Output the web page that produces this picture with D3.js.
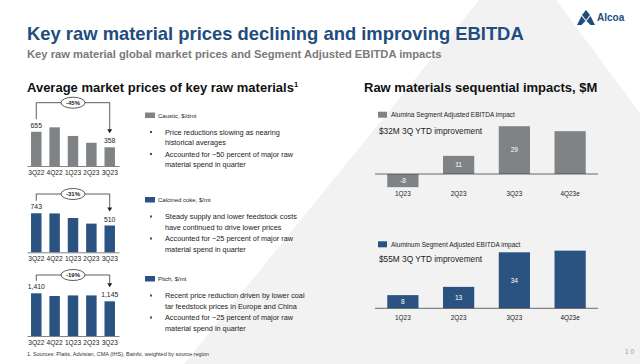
<!DOCTYPE html>
<html>
<head>
<meta charset="utf-8">
<script src="https://cdn.jsdelivr.net/npm/d3@7"></script>
<style>
  body { margin: 0; background: #fff; }
  svg { display: block; font-family: "Liberation Sans", Arial, sans-serif; }
</style>
</head>
<body>
<script>
// market price data (left)
const quarters = ['3Q22', '4Q22', '1Q23', '2Q23', '3Q23']
const causticPrices = [655, 740, 575, 445, 358]
const cokePrices = [743, 740, 653, 546, 510]
const pitchPrices = [1410, 1320, 1340, 1340, 1145]
const priceChanges = ['-45%', '-31%', '-19%']
const priceLegends = ['Caustic, $/dmt', 'Calcined coke, $/mt', 'Pitch, $/mt']
const priceNotes = [
  ['Price reductions slowing as nearing', 'historical averages', 'Accounted for ~50 percent of major raw', 'material spend in quarter'],
  ['Steady supply and lower feedstock costs', 'have continued to drive lower prices', 'Accounted for ~25 percent of major raw', 'material spend in quarter'],
  ['Recent price reduction driven by lower coal', 'tar feedstock prices in Europe and China', 'Accounted for ~25 percent of major raw', 'material spend in quarter']
]

// sequential impacts (right)
const impactQuarters = ['1Q23', '2Q23', '3Q23', '4Q23e']
const aluminaImpact = [-8, 11, 29, 26]
const aluminumImpact = [8, 13, 34, 35]
const impactLegends = ['Alumina Segment Adjusted EBITDA impact', 'Aluminum Segment Adjusted EBITDA impact']
const impactNotes = ['$32M 3Q YTD improvement', '$55M 3Q YTD improvement']

const gray = '#808385'
const blue = '#2a5382'
const titleBlue = '#214d7e'

var width = 640
var height = 364

var svg = d3.select('body').append('svg').attr('width', width).attr('height', height)

// background shape
svg.append('polygon')
  .attr('points', [[479, 0], [556, 0], [640, 113], [640, 364], [184, 364]].map(p => p.join(',')).join(' '))
  .attr('fill', '#f2f2f2')

// titles
svg.append('text').attr('x', 27).attr('y', 40)
  .attr('font-size', 18.4).attr('font-weight', 'bold').attr('fill', titleBlue)
  .text('Key raw material prices declining and improving EBITDA')
svg.append('text').attr('x', 27).attr('y', 58)
  .attr('font-size', 11.2).attr('font-weight', 'bold').attr('fill', '#7a7a7a')
  .text('Key raw material global market prices and Segment Adjusted EBITDA impacts')

var h1 = svg.append('text').attr('x', 27).attr('y', 92)
  .attr('font-size', 13).attr('font-weight', 'bold').attr('fill', '#111')
  .text('Average market prices of key raw materials')
h1.append('tspan').attr('font-size', 7.5).attr('dy', -5).text('1')
svg.append('text').attr('x', 364).attr('y', 92)
  .attr('font-size', 13).attr('font-weight', 'bold').attr('fill', '#111')
  .text('Raw materials sequential impacts, $M')

// logo
var logo = svg.append('g').attr('transform', 'translate(586,17)').attr('fill', titleBlue)
logo.append('path').attr('d', 'M0,-7 L4,-2 L0,3 L-4,-2 Z')
logo.append('path').attr('d', 'M-4.5,-1 L-0.5,4 L-4.5,8 L-9,8 Z')
logo.append('path').attr('d', 'M4.5,-1 L9,8 L4.5,8 L0.5,4 Z')
svg.append('text').attr('x', 597).attr('y', 21)
  .attr('font-size', 10).attr('font-weight', 'bold').attr('fill', titleBlue).text('Alcoa')

// ---- left mini charts ----
var x = d3.scaleBand().domain(quarters).range([27, 119]).paddingInner(0.43).paddingOuter(0.22)

var miniCharts = [
  {values: causticPrices, color: gray, base: 166, max: 750, h: 39.2, bracketY: 102.7, legendY: 115.5},
  {values: cokePrices, color: blue, base: 252.3, max: 750, h: 39.4, bracketY: 194, legendY: 200},
  {values: pitchPrices, color: blue, base: 336, max: 1410, h: 42.7, bracketY: 275, legendY: 279}
]

var fmt = d3.format(',')

miniCharts.forEach((c, i) => {
  var y = d3.scaleLinear().domain([0, c.max]).range([c.base, c.base - c.h])
  var g = svg.append('g')

  g.selectAll('rect').data(c.values).enter().append('rect')
    .attr('x', (d, j) => x(quarters[j]))
    .attr('y', d => y(d))
    .attr('width', x.bandwidth())
    .attr('height', d => y(0) - y(d))
    .attr('fill', c.color)

  g.append('g')
    .attr('transform', 'translate(0,' + c.base + ')')
    .call(d3.axisBottom(x).tickSize(0).tickPadding(4))
    .call(a => a.select('.domain').attr('stroke', '#666').attr('stroke-width', 0.8))
    .call(a => a.selectAll('text').attr('font-size', 6.6).attr('fill', '#222').attr('font-family', '"Liberation Sans", Arial, sans-serif'))

  // first and last labels
  var first = c.values[0], last = c.values[c.values.length - 1]
  var x0 = x(quarters[0]) + x.bandwidth() / 2
  var x1 = x(quarters[quarters.length - 1]) + x.bandwidth() / 2
  var l0 = y(first) - 4, l1 = y(last) - 4
  g.append('text').attr('x', x0).attr('y', l0).attr('text-anchor', 'middle')
    .attr('font-size', 6.8).attr('fill', '#222').text(fmt(first))
  g.append('text').attr('x', x1).attr('y', l1).attr('text-anchor', 'middle')
    .attr('font-size', 6.8).attr('fill', '#222').text(fmt(last))

  // bracket with arrow
  var tip = l1 - 10
  g.append('path')
    .attr('d', 'M' + x0 + ',' + (l0 - 8.5) + 'V' + c.bracketY + 'H' + x1 + 'V' + (tip - 3.5))
    .attr('fill', 'none').attr('stroke', '#333').attr('stroke-width', 0.8)
  g.append('path')
    .attr('d', 'M' + (x1 - 2.5) + ',' + (tip - 4) + 'L' + (x1 + 2.5) + ',' + (tip - 4) + 'L' + x1 + ',' + tip + 'Z')
    .attr('fill', '#222')
  var mid = (x0 + x1) / 2
  g.append('ellipse').attr('cx', mid).attr('cy', c.bracketY).attr('rx', 12).attr('ry', 5.5)
    .attr('fill', '#fff').attr('stroke', '#333').attr('stroke-width', 0.8)
  g.append('text').attr('x', mid).attr('y', c.bracketY + 2.2).attr('text-anchor', 'middle')
    .attr('font-size', 6).attr('font-weight', 'bold').attr('fill', '#222').text(priceChanges[i])

  // legend and notes
  g.append('rect').attr('x', 145).attr('y', c.legendY - 3).attr('width', 10).attr('height', 5.5).attr('fill', c.color)
  g.append('text').attr('x', 158).attr('y', c.legendY + 2).attr('font-size', 6).attr('fill', '#222').text(priceLegends[i])

  var noteYs = [c.legendY + 19, c.legendY + 29.5, c.legendY + 41, c.legendY + 51.5]
  priceNotes[i].forEach((line, k) => {
    if (k % 2 === 0) {
      g.append('rect').attr('x', 150).attr('y', noteYs[k] - 3.5).attr('width', 2).attr('height', 2).attr('fill', blue)
    }
    g.append('text').attr('x', 165).attr('y', noteYs[k]).attr('font-size', 7.3).attr('fill', '#222').text(line)
  })
})

// ---- right charts ----
var xi = d3.scaleBand().domain(impactQuarters).range([375, 598]).paddingInner(0.44).paddingOuter(0.22)
var yi = d3.scaleLinear().domain([0, 34]).range([0, 56])

var impactCharts = [
  {values: aluminaImpact, color: gray, base: 174, legendY: 114.7, noteY: 131},
  {values: aluminumImpact, color: blue, base: 308.3, legendY: 244.3, noteY: 259.3}
]

impactCharts.forEach((c, i) => {
  var g = svg.append('g')
  g.selectAll('rect').data(c.values).enter().append('rect')
    .attr('x', (d, j) => xi(impactQuarters[j]))
    .attr('y', d => d >= 0 ? c.base - yi(d) : c.base)
    .attr('width', xi.bandwidth())
    .attr('height', d => Math.abs(yi(d)))
    .attr('fill', c.color)

  g.selectAll('.val').data(c.values.slice(0, 3)).enter().append('text')
    .attr('x', (d, j) => xi(impactQuarters[j]) + xi.bandwidth() / 2)
    .attr('y', d => c.base - yi(d) / 2 + 2.3)
    .attr('text-anchor', 'middle').attr('font-size', 6.6).attr('fill', '#fff')
    .text(d => d)

  g.append('line').attr('x1', 375).attr('x2', 598).attr('y1', c.base).attr('y2', c.base)
    .attr('stroke', '#444').attr('stroke-width', 0.8)

  var labY = i === 0 ? 196.3 : 319.5
  g.selectAll('.cat').data(impactQuarters).enter().append('text')
    .attr('x', d => xi(d) + xi.bandwidth() / 2).attr('y', labY)
    .attr('text-anchor', 'middle').attr('font-size', 6.4).attr('fill', '#222').text(d => d)

  g.append('rect').attr('x', 378).attr('y', c.legendY - 3).attr('width', 9).attr('height', 6).attr('fill', c.color)
  g.append('text').attr('x', 391).attr('y', c.legendY + 2.2).attr('font-size', 6.5).attr('fill', '#222').text(impactLegends[i])
  g.append('text').attr('x', 379).attr('y', c.noteY + 2.8).attr('font-size', 8.3).attr('fill', '#222').text(impactNotes[i])
})

// footnote + page number
svg.append('text').attr('x', 27).attr('y', 356).attr('font-size', 5.5).attr('fill', '#333')
  .text('1. Sources: Platts, Advisian, CMA (IHS), Bainfo, weighted by source region')
svg.append('text').attr('x', 625).attr('y', 354).attr('font-size', 6.5).attr('fill', '#999')
  .attr('letter-spacing', 2).text('10')
</script>
</body>
</html>
